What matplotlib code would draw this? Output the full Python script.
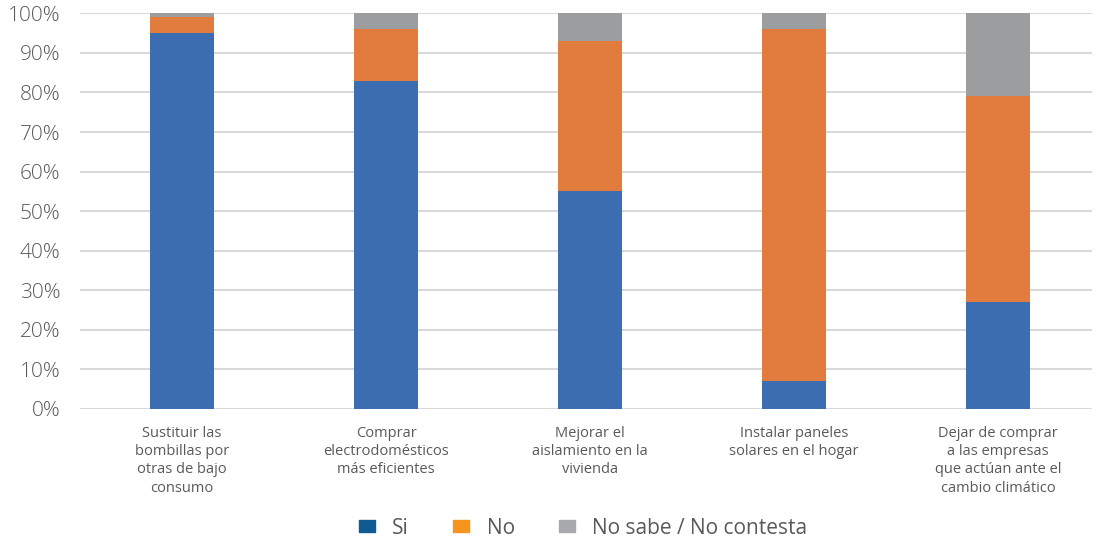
import matplotlib
matplotlib.use("Agg")
import matplotlib.pyplot as plt
from matplotlib.patches import Patch
from matplotlib.ticker import FuncFormatter, MultipleLocator
import numpy as np

categories = [
    "Sustituir las\nbombillas por\notras de bajo\nconsumo",
    "Comprar\nelectrodomésticos\nmás eficientes",
    "Mejorar el\naislamiento en la\nvivienda",
    "Instalar paneles\nsolares en el hogar",
    "Dejar de comprar\na las empresas\nque actúan ante el\ncambio climático",
]
si = [95, 83, 55, 7, 27]
no = [4, 13, 38, 89, 52]
ns_nc = [1, 4, 7, 4, 21]
series_names = ["Si", "No", "No sabe / No contesta"]

bar_colors = ["#3D6DB1", "#E27C3E", "#9C9D9E"]
legend_colors = ["#0E5A92", "#F7941D", "#A7A9AC"]
text_color = "#595959"

fig = plt.figure(figsize=(11.01, 5.41), dpi=100)
ax = fig.add_axes([80 / 1101, 132 / 541, (1092 - 80) / 1101, (541 - 132 - 13.3) / 541])

x = np.arange(len(categories))
width = 0.315
si_a, no_a, ns_a = np.array(si), np.array(no), np.array(ns_nc)
ax.bar(x, si_a, width, color=bar_colors[0], zorder=3)
ax.bar(x, no_a, width, bottom=si_a, color=bar_colors[1], zorder=3)
ax.bar(x, ns_a, width, bottom=si_a + no_a, color=bar_colors[2], zorder=3)

ax.set_ylim(0, 100)
ax.set_xlim(-0.5, 4.46)
ax.yaxis.set_major_locator(MultipleLocator(10))
ax.yaxis.set_major_formatter(FuncFormatter(lambda v, p: f"{int(v)}%"))
ax.grid(axis="y", color="#D9D9D9", linewidth=1.5, zorder=0)
for s in ax.spines.values():
    s.set_visible(False)
ax.tick_params(axis="both", length=0)
ax.tick_params(axis="y", pad=14, labelsize=15, labelcolor=text_color)
for lbl in ax.get_yticklabels():
    lbl.set_fontfamily("Open Sans")
    lbl.set_fontweight("light")

ax.set_xticks(x)
ax.set_xticklabels(categories, fontsize=10.5, color=text_color,
                   family=["Liberation Sans Narrow", "Open Sans"], linespacing=1.3)
ax.tick_params(axis="x", pad=12)

handles = [Patch(facecolor=c, edgecolor=c) for c in legend_colors]
fig.legend(handles, series_names, loc="center", bbox_to_anchor=(583 / 1101, 1 - 528 / 541),
           ncol=3, frameon=False, handlelength=0.77, handleheight=0.53,
           handletextpad=0.85, columnspacing=2.1,
           prop={"family": "Open Sans", "size": 15}, labelcolor=text_color)

fig.savefig("out.png", dpi=100)
